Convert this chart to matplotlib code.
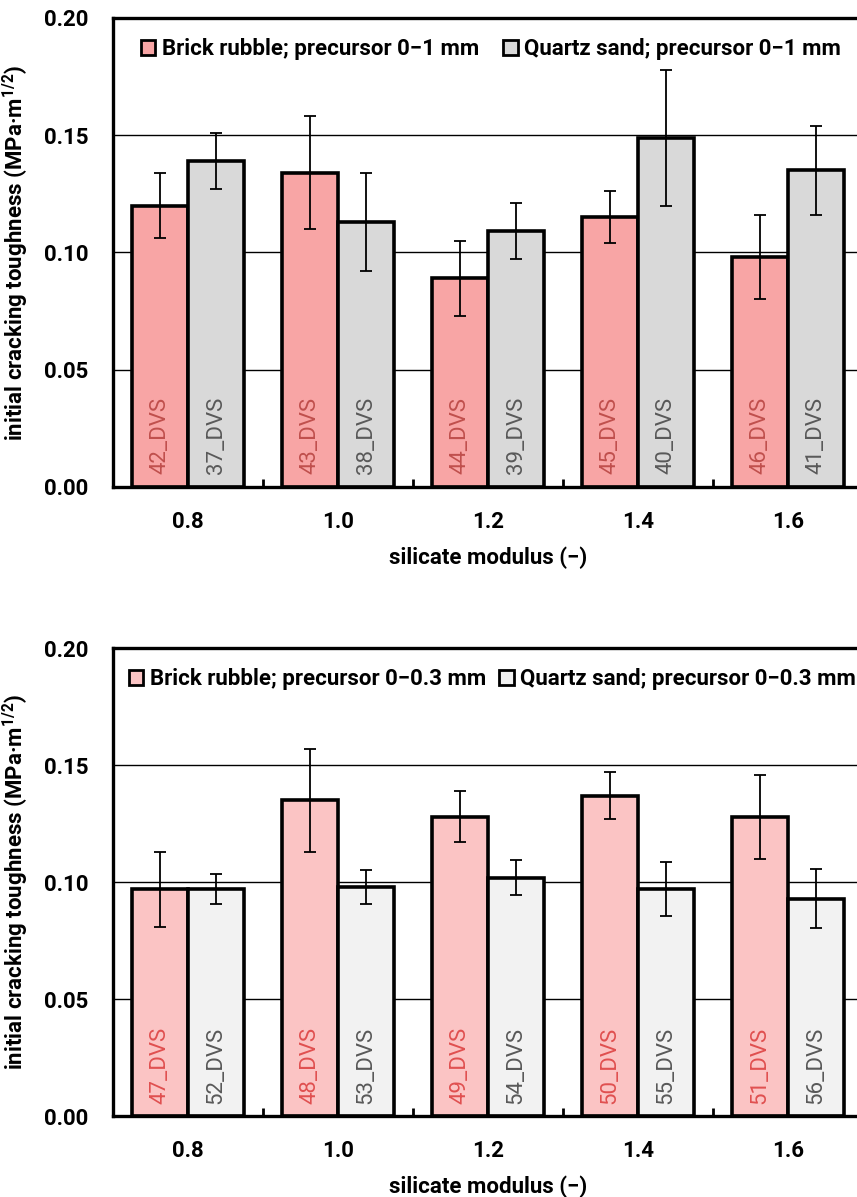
import matplotlib
matplotlib.use("Agg")
import matplotlib.pyplot as plt
import numpy as np

modulus = ["0.8", "1.0", "1.2", "1.4", "1.6"]

# top panel: precursor 0-1 mm
brick_1 = [0.120, 0.134, 0.089, 0.115, 0.098]
brick_1_err = [0.014, 0.024, 0.016, 0.011, 0.018]
quartz_1 = [0.139, 0.113, 0.109, 0.149, 0.135]
quartz_1_err = [0.012, 0.021, 0.012, 0.029, 0.019]
brick_1_names = ["42_DVS", "43_DVS", "44_DVS", "45_DVS", "46_DVS"]
quartz_1_names = ["37_DVS", "38_DVS", "39_DVS", "40_DVS", "41_DVS"]

# bottom panel: precursor 0-0.3 mm
brick_03 = [0.097, 0.135, 0.128, 0.137, 0.128]
brick_03_err = [0.016, 0.022, 0.011, 0.010, 0.018]
quartz_03 = [0.097, 0.098, 0.102, 0.097, 0.093]
quartz_03_err = [0.0065, 0.0072, 0.0074, 0.0115, 0.0126]
brick_03_names = ["47_DVS", "48_DVS", "49_DVS", "50_DVS", "51_DVS"]
quartz_03_names = ["52_DVS", "53_DVS", "54_DVS", "55_DVS", "56_DVS"]

font = "Roboto"
plt.rcParams["font.family"] = [font, "DejaVu Sans"]
plt.rcParams["mathtext.fontset"] = "custom"
plt.rcParams["mathtext.rm"] = "Roboto"
plt.rcParams["mathtext.bf"] = "Roboto:bold"

fig = plt.figure(figsize=(8.57, 11.97), dpi=100)
ax1 = fig.add_axes([0.1319, 0.5932, 0.8751, 0.3918])
ax2 = fig.add_axes([0.1319, 0.0673, 0.8751, 0.3913])

x = np.arange(len(modulus))
w = 0.375


def panel(ax, red, red_err, grey, grey_err, red_names, grey_names,
          red_col, grey_col, red_txt, grey_txt, size, leg_x, leg_sp):
    ax.set_axisbelow(True)
    for y in [0.05, 0.10, 0.15]:
        ax.axhline(y, color="black", lw=1.0, zorder=0)
    ax.bar(x - w / 2, red, w, color=red_col, edgecolor="black", lw=2.6,
           label="Brick rubble; precursor " + size, zorder=2)
    ax.bar(x + w / 2, grey, w, color=grey_col, edgecolor="black", lw=2.6,
           label="Quartz sand; precursor " + size, zorder=2)
    ax.errorbar(x - w / 2, red, yerr=red_err, fmt="none", ecolor="black",
                elinewidth=1.3, capsize=4, capthick=1.3, zorder=3)
    ax.errorbar(x + w / 2, grey, yerr=grey_err, fmt="none", ecolor="black",
                elinewidth=1.3, capsize=4, capthick=1.3, zorder=3)
    for i in range(len(x)):
        ax.text(x[i] - w / 2, 0.0055, red_names[i], rotation=90, ha="center",
                va="bottom", color=red_txt, fontsize=16, zorder=4)
        ax.text(x[i] + w / 2, 0.0055, grey_names[i], rotation=90, ha="center",
                va="bottom", color=grey_txt, fontsize=16, zorder=4)

    ax.set_xlim(-0.5, 4.5)
    ax.set_ylim(0, 0.20)
    ax.set_yticks([0.0, 0.05, 0.10, 0.15, 0.20])
    ax.set_yticklabels(["0.00", "0.05", "0.10", "0.15", "0.20"])
    ax.set_xticks(x)
    ax.set_xticklabels(modulus)
    ax.set_xticks(x[:-1] + 0.5, minor=True)
    ax.tick_params(axis="x", which="major", length=0, pad=17)
    ax.tick_params(axis="x", which="minor", direction="in", length=6, width=2)
    ax.tick_params(axis="y", length=0, pad=18)
    for lab in ax.get_xticklabels() + ax.get_yticklabels():
        lab.set_fontweight("bold")
        lab.set_fontsize(16)
    for s in ["left", "bottom", "top"]:
        ax.spines[s].set_linewidth(2.4)
    ax.spines["right"].set_visible(False)

    ax.set_xlabel("silicate modulus (\u2212)", fontweight="bold",
                  fontsize=16, labelpad=10)
    ax.set_ylabel("initial cracking toughness (MPa\u00b7m$^{\\mathbf{1/2}}$)",
                  fontweight="bold", fontsize=16, labelpad=9)
    leg = ax.legend(loc="upper left", bbox_to_anchor=(leg_x, 1.0), ncol=2,
                    frameon=False, handlelength=0.65, handleheight=0.65,
                    handletextpad=0.3, columnspacing=leg_sp,
                    prop={"weight": "bold", "size": 16})
    for h in leg.legend_handles:
        h.set_linewidth(2.0)


panel(ax1, brick_1, brick_1_err, quartz_1, quartz_1_err, brick_1_names,
      quartz_1_names, "#F8A5A5", "#D9D9D9", "#C0504D", "#595959",
      "0\u22121 mm", 0.01, 1.1)
panel(ax2, brick_03, brick_03_err, quartz_03, quartz_03_err, brick_03_names,
      quartz_03_names, "#FBC4C4", "#F2F2F2", "#E05050", "#595959",
      "0\u22120.3 mm", -0.006, 0.6)

fig.savefig("out.png", dpi=100)
